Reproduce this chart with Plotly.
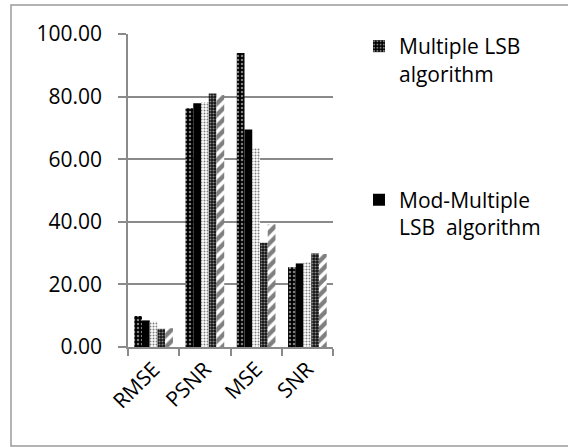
import plotly.graph_objects as go

# Quality metrics per method
categories = ["RMSE", "PSNR", "MSE", "SNR"]
multiple_lsb = [9.9, 76.3, 93.9, 25.5]
mod_multiple_lsb = [8.5, 77.9, 69.5, 26.7]
series_3 = [8.1, 78.3, 63.6, 27.1]
series_4 = [5.8, 81.0, 33.3, 29.9]
series_5 = [6.0, 80.5, 39.2, 29.7]

y_ticks = [0, 20, 40, 60, 80, 100]

W, H = 568, 447
L, R, T, B = 128, 333, 34, 347  # plot area in pixels
FONT = "Open Sans"
GRID = "#8a8a8a"


def px_x(p):
    return (p - L) / (R - L)


def px_y(p):
    return (B - p) / (B - T)


fig = go.Figure()

fig.add_trace(go.Bar(
    x=categories, y=multiple_lsb, name="Multiple LSB<br>algorithm",
    legendgroup="a",
    marker=dict(color="black", line=dict(width=0),
                pattern=dict(shape=".", bgcolor="black", fgcolor="white",
                             size=4, solidity=0.3, fillmode="overlay")),
))
fig.add_trace(go.Bar(
    x=categories, y=mod_multiple_lsb, name="Mod-Multiple<br>LSB\u00a0 algorithm",
    legendgroup="b",
    marker=dict(color="black", line=dict(width=0)),
))
fig.add_trace(go.Bar(
    x=categories, y=series_3, name="Series 3", showlegend=False,
    marker=dict(color="white", line=dict(width=0),
                pattern=dict(shape=".", bgcolor="white", fgcolor="black",
                             size=3, solidity=0.35, fillmode="overlay")),
))
fig.add_trace(go.Bar(
    x=categories, y=series_4, name="Series 4", showlegend=False,
    marker=dict(color="#111111", line=dict(width=0),
                pattern=dict(shape=".", bgcolor="#111111", fgcolor="white",
                             size=3, solidity=0.4, fillmode="overlay")),
))
fig.add_trace(go.Bar(
    x=categories, y=series_5, name="Series 5", showlegend=False,
    marker=dict(color="white", line=dict(width=0),
                pattern=dict(shape="/", bgcolor="white", fgcolor="black",
                             size=8, solidity=0.55, fillmode="overlay")),
))

# outer chart frame
fig.add_shape(type="rect", xref="paper", yref="paper",
              x0=px_x(11), x1=px_x(572), y0=px_y(446), y1=px_y(5),
              line=dict(color="#9a9a9a", width=1.5), layer="below")

fig.update_layout(
    width=W, height=H,
    margin=dict(l=L, r=W - R, t=T, b=H - B),
    paper_bgcolor="white", plot_bgcolor="white",
    barmode="group", bargap=0.245, bargroupgap=0,
    font=dict(family=FONT, size=21, color="black"),
    showlegend=True,
    legend=dict(
        x=px_x(359), y=px_y(26), xanchor="left", yanchor="top",
        font=dict(family=FONT, size=21, color="black"),
        valign="top", tracegroupgap=96, traceorder="grouped",
        bgcolor="rgba(0,0,0,0)",
    ),
    xaxis=dict(
        showline=True, linecolor=GRID, linewidth=1.5,
        ticks="outside", tickson="boundaries", ticklen=7,
        tickcolor=GRID, tickwidth=1.5, tickangle=-45,
        showgrid=False,
        tickfont=dict(family=FONT, size=21, color="black"),
    ),
    yaxis=dict(
        range=[0, 100], tickvals=y_ticks, tickformat=".2f",
        showline=True, linecolor=GRID, linewidth=1.5,
        ticks="outside", ticklen=8, tickcolor=GRID, tickwidth=1.5,
        showgrid=True, gridcolor=GRID, gridwidth=1.5,
        zeroline=False, ticklabelstandoff=12,
        tickfont=dict(family=FONT, size=21, color="black"),
    ),
)

fig.write_html("out.html")
